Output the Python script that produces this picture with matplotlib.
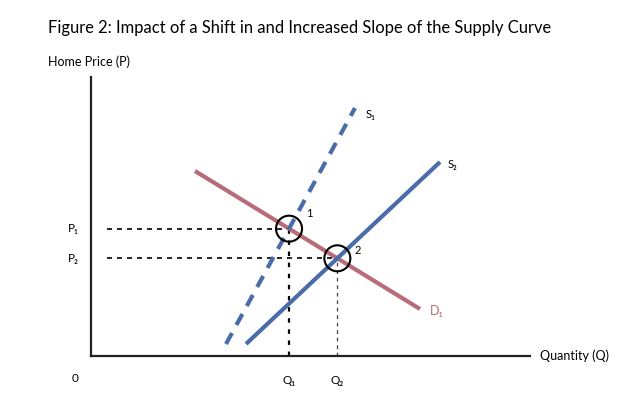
import matplotlib
matplotlib.use("Agg")
import matplotlib.pyplot as plt
import numpy as np
from matplotlib.patches import Circle

plt.rcParams['font.family'] = ['Lato', 'DejaVu Sans']

# Curves as endpoints (x, y) in chart units
demand_x = [104, 329]
demand_y = [185, 47]
supply1_x = [135, 264]
supply1_y = [12, 248]
supply2_x = [155, 349]
supply2_y = [12, 194]

labels_curves = ["D₁", "S₁", "S₂"]
labels_price = ["P₁", "P₂"]
labels_qty = ["Q₁", "Q₂"]
points = ["1", "2"]

def line_coef(xs, ys):
    m = (ys[1] - ys[0]) / (xs[1] - xs[0])
    return m, ys[0] - m * xs[0]

def intersect(a, b):
    m1, c1 = line_coef(*a)
    m2, c2 = line_coef(*b)
    x = (c2 - c1) / (m1 - m2)
    return x, m1 * x + c1

p1 = intersect((demand_x, demand_y), (supply1_x, supply1_y))
p2 = intersect((demand_x, demand_y), (supply2_x, supply2_y))

fig = plt.figure(figsize=(6.42, 3.97), dpi=100)
W, H = 642, 397
ax = fig.add_axes([91 / W, 1 - 356 / H, 439 / W, 279 / H])
ax.set_xlim(0, 439)
ax.set_ylim(0, 279)
for s in ['top', 'right']:
    ax.spines[s].set_visible(False)
for s in ['left', 'bottom']:
    ax.spines[s].set_linewidth(1.6)
    ax.spines[s].set_color('#222222')
ax.set_xticks([])
ax.set_yticks([])

blue = '#4a6ca8'
red = '#b96c78'

ax.plot(demand_x, demand_y, color=red, lw=3, solid_capstyle='butt', zorder=3)
ax.plot(supply2_x, supply2_y, color=blue, lw=3, solid_capstyle='butt', zorder=3)
ax.plot(supply1_x, supply1_y, color=blue, lw=3, ls=(0, (3, 2.2)), zorder=3)

# guide lines
ax.plot([16, p1[0]], [p1[1], p1[1]], color='black', lw=1.2, ls=(0, (3, 3)), zorder=2)
ax.plot([16, p2[0]], [p2[1], p2[1]], color='black', lw=1.2, ls=(0, (3, 3)), zorder=2)
ax.plot([p1[0], p1[0]], [0, p1[1]], color='black', lw=1.6, ls=(0, (2, 3)), zorder=2)
ax.plot([p2[0], p2[0]], [0, p2[1]], color='#444444', lw=0.9, ls=(0, (3, 3)), zorder=2)

for (px, py), lab, (dx, dy) in zip([p1, p2], points, [(20, 15), (20, 8)]):
    ax.add_patch(Circle((px, py), 13, fill=False, ec='black', lw=1.5, zorder=4))
    ax.text(px + dx, py + dy, lab, fontsize=8, ha='center', va='center', zorder=5)

ax.text(demand_x[1] + 10, demand_y[1] - 2, labels_curves[0], color=red, fontsize=9, ha='left', va='center')
ax.text(supply1_x[1] + 11, supply1_y[1] - 7, labels_curves[1], color='black', fontsize=8, ha='left', va='center')
ax.text(supply2_x[1] + 8, supply2_y[1] - 2, labels_curves[2], color='black', fontsize=8, ha='left', va='center')

ax.text(-12, p1[1], labels_price[0], fontsize=8.5, ha='right', va='center')
ax.text(-12, p2[1], labels_price[1], fontsize=8.5, ha='right', va='center')
ax.text(p1[0], -25, labels_qty[0], fontsize=8.5, ha='center', va='center', clip_on=False)
ax.text(p2[0], -25, labels_qty[1], fontsize=8.5, ha='center', va='center', clip_on=False)
ax.text(-16, -22, "0", fontsize=8.5, ha='center', va='center', clip_on=False)
ax.text(449, 0, "Quantity (Q)", fontsize=9, ha='left', va='center', clip_on=False)

fig.text(48 / W, 1 - 28 / H, "Figure 2: Impact of a Shift in and Increased Slope of the Supply Curve",
         fontsize=11.9, ha='left', va='center')
fig.text(48 / W, 1 - 62 / H, "Home Price (P)", fontsize=9, ha='left', va='center')

fig.savefig("out.png", dpi=100, facecolor='white')
